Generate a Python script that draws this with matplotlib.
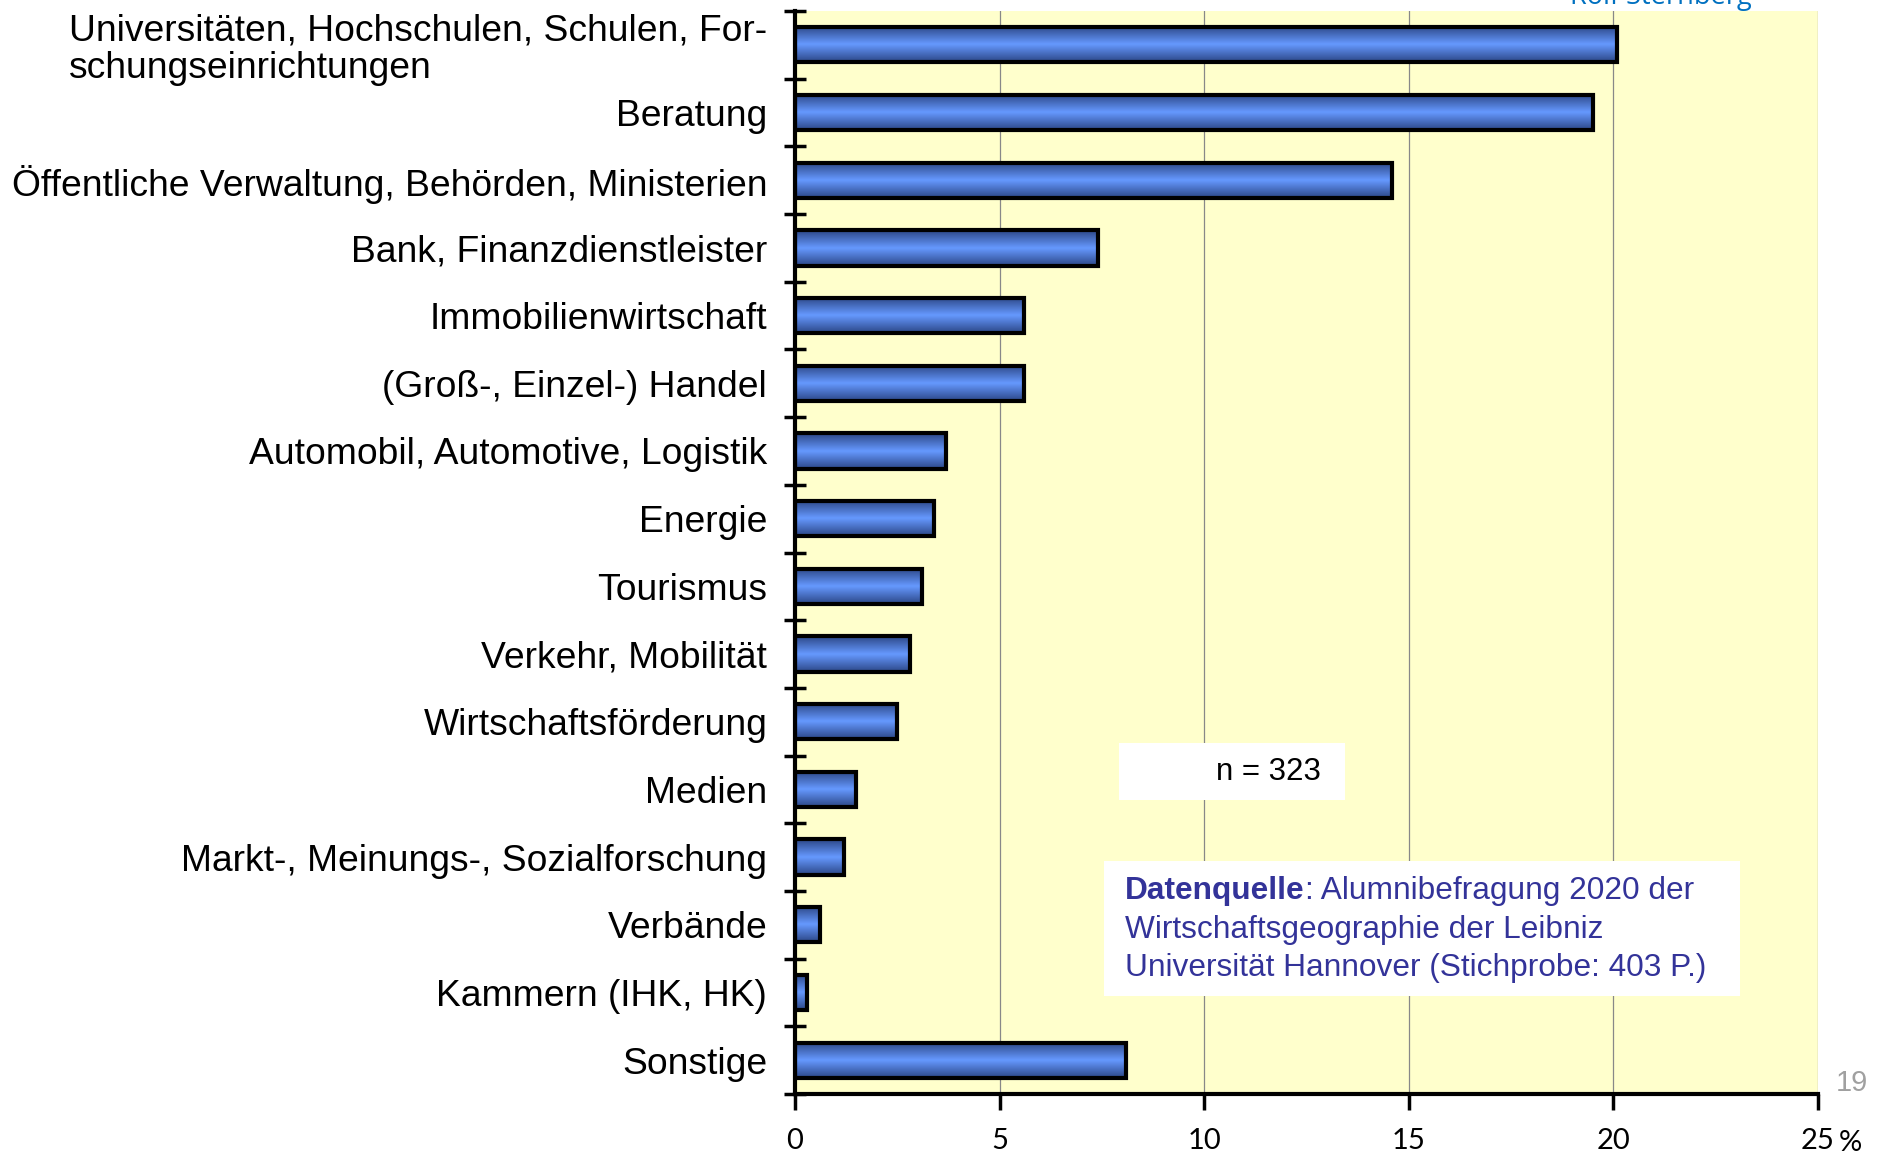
import numpy as np
import matplotlib.pyplot as plt
from matplotlib.colors import LinearSegmentedColormap
from matplotlib.patches import Rectangle
from matplotlib.text import Annotation

# Branchen der Alumni (Anteil in %)
branchen = ['Universitäten, Hochschulen, Schulen, For-\nschungseinrichtungen',
            'Beratung',
            'Öffentliche Verwaltung, Behörden, Ministerien',
            'Bank, Finanzdienstleister',
            'Immobilienwirtschaft',
            '(Groß-, Einzel-) Handel',
            'Automobil, Automotive, Logistik',
            'Energie',
            'Tourismus',
            'Verkehr, Mobilität',
            'Wirtschaftsförderung',
            'Medien',
            'Markt-, Meinungs-, Sozialforschung',
            'Verbände',
            'Kammern (IHK, HK)',
            'Sonstige']
anteil = [20.1, 19.5, 14.6, 7.4, 5.6, 5.6, 3.7, 3.4, 3.1, 2.8, 2.5, 1.5, 1.2, 0.6, 0.3, 8.1]
x_ticks = [0, 5, 10, 15, 20, 25]
x_labels = ['0', '5', '10', '15', '20', '25']

plt.rcParams['font.family'] = ['Liberation Sans', 'DejaVu Sans']

W, H = 1886, 1157
fig = plt.figure(figsize=(W / 100, H / 100), dpi=100)
ax = fig.add_axes([795 / W, 63 / H, 1023 / W, 1083 / H])
ax.set_facecolor('#ffffcc')

pos = np.arange(len(branchen))
bars = ax.barh(pos, anteil, height=0.52, facecolor='none', edgecolor='black',
               linewidth=3, zorder=3)

# Farbverlauf in den Balken
cmap = LinearSegmentedColormap.from_list('balken', ['#2c4787', '#6699ff', '#2c4787'])
grad = np.linspace(0, 1, 100).reshape(-1, 1)
for b in bars:
    x0, y0 = b.get_x(), b.get_y()
    im = ax.imshow(grad, cmap=cmap, aspect='auto', interpolation='bicubic',
                   extent=[x0, x0 + b.get_width(), y0, y0 + b.get_height()], zorder=2)
    im.set_clip_path(b)

ax.set_xlim(0, 25)
ax.set_ylim(len(branchen) - 0.5, -0.5)

# y-Achse: Striche zwischen den Kategorien, Beschriftung mittig
ax.set_yticks(np.arange(-0.5, len(branchen)), labels=[])
ax.set_yticks(pos, labels=branchen, minor=True)
ax.tick_params(axis='y', which='major', direction='inout', length=16, width=2.5)
ax.tick_params(axis='y', which='minor', length=0, pad=20, labelsize=26.8)
for lbl in ax.get_yticklabels(minor=True):
    lbl.set_multialignment('left')
    lbl.set_linespacing(1.08)

ax.set_xticks(x_ticks, labels=x_labels)
ax.tick_params(axis='x', direction='out', length=11.5, width=2.5, pad=13, labelsize=21)
for lbl in ax.get_xticklabels():
    lbl.set_family(['Lato', 'DejaVu Sans'])
ax.annotate('%', xy=(25, 0), xycoords=('data', 'axes fraction'), xytext=(15, -35),
            textcoords='offset points', ha='left', va='center', fontsize=21,
            family=['Lato', 'DejaVu Sans'])

ax.grid(axis='x', color='#888888', linewidth=0.9)
ax.set_axisbelow(True)
for s in ['top', 'right']:
    ax.spines[s].set_visible(False)
for s in ['left', 'bottom']:
    ax.spines[s].set_linewidth(3)

# Kästen
fig.add_artist(Rectangle((1119 / W, 1 - 800 / H), 226 / W, 57 / H,
                         transform=fig.transFigure, facecolor='white', edgecolor='none', zorder=4))
fig.text(1268 / W, 1 - 772 / H, 'n = 323', fontsize=22.5, ha='center', va='center', zorder=5)

fig.add_artist(Rectangle((1104 / W, 1 - 996 / H), 636 / W, 135 / H,
                         transform=fig.transFigure, facecolor='white', edgecolor='none', zorder=4))
blau = '#333399'
fs = 22.8
t1 = fig.text(1125 / W, 1 - 891 / H, 'Datenquelle', fontsize=fs, fontweight='bold',
              color=blau, va='center', ha='left', zorder=5)
fig.add_artist(Annotation(': Alumnibefragung 2020 der', xy=(1, 0), xycoords=t1,
                          va='bottom', ha='left', fontsize=fs, color=blau, zorder=5))
fig.text(1125 / W, 1 - 930 / H, 'Wirtschaftsgeographie der Leibniz', fontsize=fs,
         color=blau, va='center', ha='left', zorder=5)
fig.text(1125 / W, 1 - 968 / H, 'Universität Hannover (Stichprobe: 403 P.)', fontsize=fs,
         color=blau, va='center', ha='left', zorder=5)

fig.text(1661 / W, 1 - 4 / H, 'Rolf Sternberg', fontsize=19.5, family='Open Sans',
         color='#0070c0', ha='center', va='baseline')
fig.text(1852 / W, 1 - 1083 / H, '19', fontsize=21, color='#a0a0a0', ha='center', va='center')

fig.savefig('out.png', dpi=100)
